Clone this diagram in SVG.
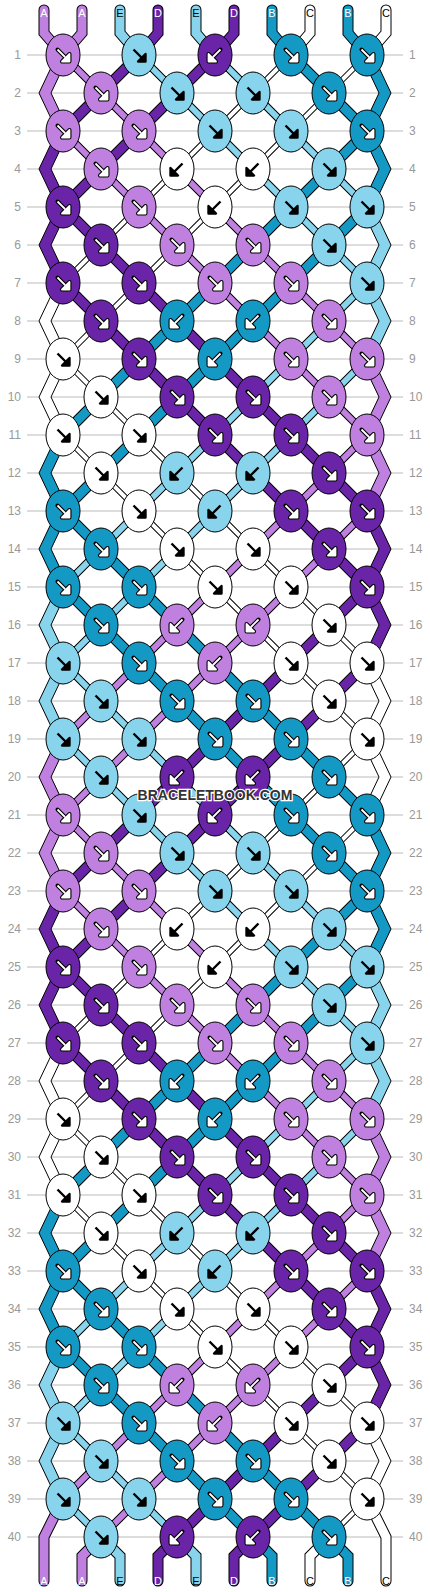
<svg xmlns="http://www.w3.org/2000/svg" xmlns:xlink="http://www.w3.org/1999/xlink" width="430" height="1592" viewBox="0 0 430 1592">
<style>
.g{stroke:#bbb;stroke-width:1;fill:none}
.n{font-family:"Liberation Sans",Arial,sans-serif;font-size:12px;fill:#999}
.nl{text-anchor:end}
.lb{font-family:"Liberation Sans",Arial,sans-serif;font-size:11px;text-anchor:middle}
.lw{fill:#fff}.lk{fill:#000}
ellipse{rx:17px;ry:21px;stroke:#000;stroke-width:1}
.A{fill:#c080e0}.B{fill:#1498c4}.C{fill:#fff}.D{fill:#6a24a8}.E{fill:#88d4ec}
.e{stroke:#000;stroke-width:1}
.t{fill:none;stroke-linecap:butt}
.oA,.oE{stroke:#000;stroke-width:8}.oB,.oD{stroke:#000;stroke-width:11}.oC{stroke:#000;stroke-width:6}
.cA{stroke:#c080e0;stroke-width:6}.cE{stroke:#88d4ec;stroke-width:6}.cB{stroke:#1498c4;stroke-width:9}.cD{stroke:#6a24a8;stroke-width:9}.cC{stroke:#fff;stroke-width:4}
.s{fill:none;stroke-linecap:round;stroke-linejoin:miter}
.so{stroke:#000;stroke-width:11}
.sA{stroke:#c080e0;stroke-width:9}.sB{stroke:#1498c4;stroke-width:9}.sC{stroke:#fff;stroke-width:9}.sD{stroke:#6a24a8;stroke-width:9}.sE{stroke:#88d4ec;stroke-width:9}
.ao{fill:#fff;stroke:#000;stroke-width:4;stroke-linejoin:round;stroke-linecap:round}
.ai{fill:#fff;stroke:#fff;stroke-width:1.8;stroke-linejoin:round}
.ab{fill:#000;stroke:#000;stroke-width:2.4;stroke-linejoin:round}
.wm{font-family:"Liberation Sans",Arial,sans-serif;font-size:14px;font-weight:bold;text-anchor:middle;fill:#333;stroke:#fff;stroke-width:2.5;paint-order:stroke}
</style>
<defs>
<path id="fa" d="M-5.5-5.5L2 2M6.5 6.5V-1L-1 6.5Z"/>
<path id="ba" d="M5.5-5.5L-2 2M-6.5 6.5V-1L1 6.5Z"/>
<g id="fW"><use href="#fa" class="ao"/><use href="#fa" class="ai"/></g>
<g id="bW"><use href="#ba" class="ao"/><use href="#ba" class="ai"/></g>
<g id="fB"><use href="#fa" class="ab"/></g>
<g id="bB"><use href="#ba" class="ab"/></g>
<path id="pA" d="M63 55l304 304m0 76l-304 304m0 76l304 304m0 76l-304 304M63 131l304 304m0 76l-304 304m0 76l304 304m0 76l-266 266"/>
<path id="pE" d="M139 55l228 228m0 76l-304 304m0 76l304 304m0 76l-304 304m0 76l38 38M215 55l152 152m0 76l-304 304m0 76l304 304m0 76l-304 304m0 76l114 114"/>
<path id="pD" d="M139 55l-76 76m0 76l304 304m0 76l-304 304m0 76l304 304m0 76l-190 190M215 55l-152 152m0 76l304 304m0 76l-304 304m0 76l304 304m0 76l-114 114"/>
<path id="pB" d="M291 55l76 76m0 76l-304 304m0 76l304 304m0 76l-304 304m0 76l190 190M367 131l-304 304m0 76l304 304m0 76l-304 304m0 76l266 266"/>
<path id="pC" d="M291 55l-228 228m0 76l304 304m0 76l-304 304m0 76l304 304m0 76l-38 38M367 55l-304 304m0 76l304 304m0 76l-304 304m0 76l304 304"/>
<path id="qA" d="M44 10V33L63 55M82 10V33L63 55M82 1581V1556L101 1537M44 1581V1537L63 1499"/>
<path id="qE" d="M120 10V33L139 55M196 10V33L215 55M120 1581V1556L101 1537M196 1581V1556L177 1537"/>
<path id="qD" d="M158 10V33L139 55M234 10V33L215 55M158 1581V1556L177 1537M234 1581V1556L253 1537"/>
<path id="qB" d="M272 10V33L291 55M348 10V33L367 55M272 1581V1556L253 1537M348 1581V1556L329 1537"/>
<path id="qC" d="M310 10V33L291 55M386 10V33L367 55M310 1581V1556L329 1537M386 1581V1537L367 1499"/>
</defs>
<rect width="430" height="1592" fill="#fff"/>
<g id="guides">
<path class="g" d="M27 55H403M27 93H403M27 131H403M27 169H403M27 207H403M27 245H403M27 283H403M27 321H403M27 359H403M27 397H403M27 435H403M27 473H403M27 511H403M27 549H403M27 587H403M27 625H403M27 663H403M27 701H403M27 739H403M27 777H403M27 815H403M27 853H403M27 891H403M27 929H403M27 967H403M27 1005H403M27 1043H403M27 1081H403M27 1119H403M27 1157H403M27 1195H403M27 1233H403M27 1271H403M27 1309H403M27 1347H403M27 1385H403M27 1423H403M27 1461H403M27 1499H403M27 1537H403"/>
</g>
<g id="rownumbers">
<text class="n nl" x="21" y="59">1</text><text class="n nl" x="21" y="97">2</text><text class="n nl" x="21" y="135">3</text><text class="n nl" x="21" y="173">4</text><text class="n nl" x="21" y="211">5</text><text class="n nl" x="21" y="249">6</text><text class="n nl" x="21" y="287">7</text><text class="n nl" x="21" y="325">8</text><text class="n nl" x="21" y="363">9</text><text class="n nl" x="21" y="401">10</text>
<text class="n nl" x="21" y="439">11</text><text class="n nl" x="21" y="477">12</text><text class="n nl" x="21" y="515">13</text><text class="n nl" x="21" y="553">14</text><text class="n nl" x="21" y="591">15</text><text class="n nl" x="21" y="629">16</text><text class="n nl" x="21" y="667">17</text><text class="n nl" x="21" y="705">18</text><text class="n nl" x="21" y="743">19</text><text class="n nl" x="21" y="781">20</text>
<text class="n nl" x="21" y="819">21</text><text class="n nl" x="21" y="857">22</text><text class="n nl" x="21" y="895">23</text><text class="n nl" x="21" y="933">24</text><text class="n nl" x="21" y="971">25</text><text class="n nl" x="21" y="1009">26</text><text class="n nl" x="21" y="1047">27</text><text class="n nl" x="21" y="1085">28</text><text class="n nl" x="21" y="1123">29</text><text class="n nl" x="21" y="1161">30</text>
<text class="n nl" x="21" y="1199">31</text><text class="n nl" x="21" y="1237">32</text><text class="n nl" x="21" y="1275">33</text><text class="n nl" x="21" y="1313">34</text><text class="n nl" x="21" y="1351">35</text><text class="n nl" x="21" y="1389">36</text><text class="n nl" x="21" y="1427">37</text><text class="n nl" x="21" y="1465">38</text><text class="n nl" x="21" y="1503">39</text><text class="n nl" x="21" y="1541">40</text>
<text class="n" x="409" y="59">1</text><text class="n" x="409" y="97">2</text><text class="n" x="409" y="135">3</text><text class="n" x="409" y="173">4</text><text class="n" x="409" y="211">5</text><text class="n" x="409" y="249">6</text><text class="n" x="409" y="287">7</text><text class="n" x="409" y="325">8</text><text class="n" x="409" y="363">9</text><text class="n" x="409" y="401">10</text>
<text class="n" x="409" y="439">11</text><text class="n" x="409" y="477">12</text><text class="n" x="409" y="515">13</text><text class="n" x="409" y="553">14</text><text class="n" x="409" y="591">15</text><text class="n" x="409" y="629">16</text><text class="n" x="409" y="667">17</text><text class="n" x="409" y="705">18</text><text class="n" x="409" y="743">19</text><text class="n" x="409" y="781">20</text>
<text class="n" x="409" y="819">21</text><text class="n" x="409" y="857">22</text><text class="n" x="409" y="895">23</text><text class="n" x="409" y="933">24</text><text class="n" x="409" y="971">25</text><text class="n" x="409" y="1009">26</text><text class="n" x="409" y="1047">27</text><text class="n" x="409" y="1085">28</text><text class="n" x="409" y="1123">29</text><text class="n" x="409" y="1161">30</text>
<text class="n" x="409" y="1199">31</text><text class="n" x="409" y="1237">32</text><text class="n" x="409" y="1275">33</text><text class="n" x="409" y="1313">34</text><text class="n" x="409" y="1351">35</text><text class="n" x="409" y="1389">36</text><text class="n" x="409" y="1427">37</text><text class="n" x="409" y="1465">38</text><text class="n" x="409" y="1503">39</text><text class="n" x="409" y="1541">40</text>
</g>
<g id="connectors">
<use href="#pA" class="t oA"/><use href="#pA" class="t cA"/>
<use href="#pE" class="t oE"/><use href="#pE" class="t cE"/>
<use href="#pD" class="t oD"/><use href="#pD" class="t cD"/>
<use href="#pB" class="t oB"/><use href="#pB" class="t cB"/>
<use href="#pC" class="t oC"/><use href="#pC" class="t cC"/>
<polygon class="e A" points="57,55 39,93 57,131 69,131 51,93 69,55"/>
<polygon class="e D" points="57,131 39,169 57,207 39,245 57,283 69,283 51,245 69,207 51,169 69,131"/>
<polygon class="e C" points="57,283 39,321 57,359 39,397 57,435 69,435 51,397 69,359 51,321 69,283"/>
<polygon class="e B" points="57,435 39,473 57,511 39,549 57,587 69,587 51,549 69,511 51,473 69,435"/>
<polygon class="e E" points="57,587 39,625 57,663 39,701 57,739 69,739 51,701 69,663 51,625 69,587"/>
<polygon class="e A" points="57,739 39,777 57,815 39,853 57,891 69,891 51,853 69,815 51,777 69,739"/>
<polygon class="e D" points="57,891 39,929 57,967 39,1005 57,1043 69,1043 51,1005 69,967 51,929 69,891"/>
<polygon class="e C" points="57,1043 39,1081 57,1119 39,1157 57,1195 69,1195 51,1157 69,1119 51,1081 69,1043"/>
<polygon class="e B" points="57,1195 39,1233 57,1271 39,1309 57,1347 69,1347 51,1309 69,1271 51,1233 69,1195"/>
<polygon class="e E" points="57,1347 39,1385 57,1423 39,1461 57,1499 69,1499 51,1461 69,1423 51,1385 69,1347"/>
<polygon class="e B" points="373,55 391,93 373,131 391,169 373,207 361,207 379,169 361,131 379,93 361,55"/>
<polygon class="e E" points="373,207 391,245 373,283 391,321 373,359 361,359 379,321 361,283 379,245 361,207"/>
<polygon class="e A" points="373,359 391,397 373,435 391,473 373,511 361,511 379,473 361,435 379,397 361,359"/>
<polygon class="e D" points="373,511 391,549 373,587 391,625 373,663 361,663 379,625 361,587 379,549 361,511"/>
<polygon class="e C" points="373,663 391,701 373,739 391,777 373,815 361,815 379,777 361,739 379,701 361,663"/>
<polygon class="e B" points="373,815 391,853 373,891 391,929 373,967 361,967 379,929 361,891 379,853 361,815"/>
<polygon class="e E" points="373,967 391,1005 373,1043 391,1081 373,1119 361,1119 379,1081 361,1043 379,1005 361,967"/>
<polygon class="e A" points="373,1119 391,1157 373,1195 391,1233 373,1271 361,1271 379,1233 361,1195 379,1157 361,1119"/>
<polygon class="e D" points="373,1271 391,1309 373,1347 391,1385 373,1423 361,1423 379,1385 361,1347 379,1309 361,1271"/>
<polygon class="e C" points="373,1423 391,1461 373,1499 361,1499 379,1461 361,1423"/>
<use href="#qA" class="s so"/><use href="#qA" class="s sA"/>
<use href="#qE" class="s so"/><use href="#qE" class="s sE"/>
<use href="#qD" class="s so"/><use href="#qD" class="s sD"/>
<use href="#qB" class="s so"/><use href="#qB" class="s sB"/>
<use href="#qC" class="s so"/><use href="#qC" class="s sC"/>
</g>
<g id="labels">
<text class="lb lw" x="44" y="17">A</text><text class="lb lw" x="82" y="17">A</text><text class="lb lk" x="120" y="17">E</text><text class="lb lw" x="158" y="17">D</text><text class="lb lk" x="196" y="17">E</text><text class="lb lw" x="234" y="17">D</text><text class="lb lw" x="272" y="17">B</text><text class="lb lk" x="310" y="17">C</text><text class="lb lw" x="348" y="17">B</text><text class="lb lk" x="386" y="17">C</text>
<text class="lb lw" x="44" y="1585">A</text><text class="lb lw" x="82" y="1585">A</text><text class="lb lk" x="120" y="1585">E</text><text class="lb lw" x="158" y="1585">D</text><text class="lb lk" x="196" y="1585">E</text><text class="lb lw" x="234" y="1585">D</text><text class="lb lw" x="272" y="1585">B</text><text class="lb lk" x="310" y="1585">C</text><text class="lb lw" x="348" y="1585">B</text><text class="lb lk" x="386" y="1585">C</text>
</g>
<g id="knots">
<g id="k1-1"><ellipse class="A" cx="63" cy="55"/><use href="#fW" x="63" y="55"/></g>
<g id="k1-2"><ellipse class="E" cx="139" cy="55"/><use href="#fB" x="139" y="55"/></g>
<g id="k1-3"><ellipse class="D" cx="215" cy="55"/><use href="#bW" x="215" y="55"/></g>
<g id="k1-4"><ellipse class="B" cx="291" cy="55"/><use href="#fW" x="291" y="55"/></g>
<g id="k1-5"><ellipse class="B" cx="367" cy="55"/><use href="#fW" x="367" y="55"/></g>
<g id="k2-1"><ellipse class="A" cx="101" cy="93"/><use href="#fW" x="101" y="93"/></g>
<g id="k2-2"><ellipse class="E" cx="177" cy="93"/><use href="#fB" x="177" y="93"/></g>
<g id="k2-3"><ellipse class="E" cx="253" cy="93"/><use href="#fB" x="253" y="93"/></g>
<g id="k2-4"><ellipse class="B" cx="329" cy="93"/><use href="#fW" x="329" y="93"/></g>
<g id="k3-1"><ellipse class="A" cx="63" cy="131"/><use href="#fW" x="63" y="131"/></g>
<g id="k3-2"><ellipse class="A" cx="139" cy="131"/><use href="#fW" x="139" y="131"/></g>
<g id="k3-3"><ellipse class="E" cx="215" cy="131"/><use href="#fB" x="215" y="131"/></g>
<g id="k3-4"><ellipse class="E" cx="291" cy="131"/><use href="#fB" x="291" y="131"/></g>
<g id="k3-5"><ellipse class="B" cx="367" cy="131"/><use href="#fW" x="367" y="131"/></g>
<g id="k4-1"><ellipse class="A" cx="101" cy="169"/><use href="#fW" x="101" y="169"/></g>
<g id="k4-2"><ellipse class="C" cx="177" cy="169"/><use href="#bB" x="177" y="169"/></g>
<g id="k4-3"><ellipse class="C" cx="253" cy="169"/><use href="#bB" x="253" y="169"/></g>
<g id="k4-4"><ellipse class="E" cx="329" cy="169"/><use href="#fB" x="329" y="169"/></g>
<g id="k5-1"><ellipse class="D" cx="63" cy="207"/><use href="#fW" x="63" y="207"/></g>
<g id="k5-2"><ellipse class="A" cx="139" cy="207"/><use href="#fW" x="139" y="207"/></g>
<g id="k5-3"><ellipse class="C" cx="215" cy="207"/><use href="#bB" x="215" y="207"/></g>
<g id="k5-4"><ellipse class="E" cx="291" cy="207"/><use href="#fB" x="291" y="207"/></g>
<g id="k5-5"><ellipse class="E" cx="367" cy="207"/><use href="#fB" x="367" y="207"/></g>
<g id="k6-1"><ellipse class="D" cx="101" cy="245"/><use href="#fW" x="101" y="245"/></g>
<g id="k6-2"><ellipse class="A" cx="177" cy="245"/><use href="#fW" x="177" y="245"/></g>
<g id="k6-3"><ellipse class="A" cx="253" cy="245"/><use href="#fW" x="253" y="245"/></g>
<g id="k6-4"><ellipse class="E" cx="329" cy="245"/><use href="#fB" x="329" y="245"/></g>
<g id="k7-1"><ellipse class="D" cx="63" cy="283"/><use href="#fW" x="63" y="283"/></g>
<g id="k7-2"><ellipse class="D" cx="139" cy="283"/><use href="#fW" x="139" y="283"/></g>
<g id="k7-3"><ellipse class="A" cx="215" cy="283"/><use href="#fW" x="215" y="283"/></g>
<g id="k7-4"><ellipse class="A" cx="291" cy="283"/><use href="#fW" x="291" y="283"/></g>
<g id="k7-5"><ellipse class="E" cx="367" cy="283"/><use href="#fB" x="367" y="283"/></g>
<g id="k8-1"><ellipse class="D" cx="101" cy="321"/><use href="#fW" x="101" y="321"/></g>
<g id="k8-2"><ellipse class="B" cx="177" cy="321"/><use href="#bW" x="177" y="321"/></g>
<g id="k8-3"><ellipse class="B" cx="253" cy="321"/><use href="#bW" x="253" y="321"/></g>
<g id="k8-4"><ellipse class="A" cx="329" cy="321"/><use href="#fW" x="329" y="321"/></g>
<g id="k9-1"><ellipse class="C" cx="63" cy="359"/><use href="#fB" x="63" y="359"/></g>
<g id="k9-2"><ellipse class="D" cx="139" cy="359"/><use href="#fW" x="139" y="359"/></g>
<g id="k9-3"><ellipse class="B" cx="215" cy="359"/><use href="#bW" x="215" y="359"/></g>
<g id="k9-4"><ellipse class="A" cx="291" cy="359"/><use href="#fW" x="291" y="359"/></g>
<g id="k9-5"><ellipse class="A" cx="367" cy="359"/><use href="#fW" x="367" y="359"/></g>
<g id="k10-1"><ellipse class="C" cx="101" cy="397"/><use href="#fB" x="101" y="397"/></g>
<g id="k10-2"><ellipse class="D" cx="177" cy="397"/><use href="#fW" x="177" y="397"/></g>
<g id="k10-3"><ellipse class="D" cx="253" cy="397"/><use href="#fW" x="253" y="397"/></g>
<g id="k10-4"><ellipse class="A" cx="329" cy="397"/><use href="#fW" x="329" y="397"/></g>
<g id="k11-1"><ellipse class="C" cx="63" cy="435"/><use href="#fB" x="63" y="435"/></g>
<g id="k11-2"><ellipse class="C" cx="139" cy="435"/><use href="#fB" x="139" y="435"/></g>
<g id="k11-3"><ellipse class="D" cx="215" cy="435"/><use href="#fW" x="215" y="435"/></g>
<g id="k11-4"><ellipse class="D" cx="291" cy="435"/><use href="#fW" x="291" y="435"/></g>
<g id="k11-5"><ellipse class="A" cx="367" cy="435"/><use href="#fW" x="367" y="435"/></g>
<g id="k12-1"><ellipse class="C" cx="101" cy="473"/><use href="#fB" x="101" y="473"/></g>
<g id="k12-2"><ellipse class="E" cx="177" cy="473"/><use href="#bB" x="177" y="473"/></g>
<g id="k12-3"><ellipse class="E" cx="253" cy="473"/><use href="#bB" x="253" y="473"/></g>
<g id="k12-4"><ellipse class="D" cx="329" cy="473"/><use href="#fW" x="329" y="473"/></g>
<g id="k13-1"><ellipse class="B" cx="63" cy="511"/><use href="#fW" x="63" y="511"/></g>
<g id="k13-2"><ellipse class="C" cx="139" cy="511"/><use href="#fB" x="139" y="511"/></g>
<g id="k13-3"><ellipse class="E" cx="215" cy="511"/><use href="#bB" x="215" y="511"/></g>
<g id="k13-4"><ellipse class="D" cx="291" cy="511"/><use href="#fW" x="291" y="511"/></g>
<g id="k13-5"><ellipse class="D" cx="367" cy="511"/><use href="#fW" x="367" y="511"/></g>
<g id="k14-1"><ellipse class="B" cx="101" cy="549"/><use href="#fW" x="101" y="549"/></g>
<g id="k14-2"><ellipse class="C" cx="177" cy="549"/><use href="#fB" x="177" y="549"/></g>
<g id="k14-3"><ellipse class="C" cx="253" cy="549"/><use href="#fB" x="253" y="549"/></g>
<g id="k14-4"><ellipse class="D" cx="329" cy="549"/><use href="#fW" x="329" y="549"/></g>
<g id="k15-1"><ellipse class="B" cx="63" cy="587"/><use href="#fW" x="63" y="587"/></g>
<g id="k15-2"><ellipse class="B" cx="139" cy="587"/><use href="#fW" x="139" y="587"/></g>
<g id="k15-3"><ellipse class="C" cx="215" cy="587"/><use href="#fB" x="215" y="587"/></g>
<g id="k15-4"><ellipse class="C" cx="291" cy="587"/><use href="#fB" x="291" y="587"/></g>
<g id="k15-5"><ellipse class="D" cx="367" cy="587"/><use href="#fW" x="367" y="587"/></g>
<g id="k16-1"><ellipse class="B" cx="101" cy="625"/><use href="#fW" x="101" y="625"/></g>
<g id="k16-2"><ellipse class="A" cx="177" cy="625"/><use href="#bW" x="177" y="625"/></g>
<g id="k16-3"><ellipse class="A" cx="253" cy="625"/><use href="#bW" x="253" y="625"/></g>
<g id="k16-4"><ellipse class="C" cx="329" cy="625"/><use href="#fB" x="329" y="625"/></g>
<g id="k17-1"><ellipse class="E" cx="63" cy="663"/><use href="#fB" x="63" y="663"/></g>
<g id="k17-2"><ellipse class="B" cx="139" cy="663"/><use href="#fW" x="139" y="663"/></g>
<g id="k17-3"><ellipse class="A" cx="215" cy="663"/><use href="#bW" x="215" y="663"/></g>
<g id="k17-4"><ellipse class="C" cx="291" cy="663"/><use href="#fB" x="291" y="663"/></g>
<g id="k17-5"><ellipse class="C" cx="367" cy="663"/><use href="#fB" x="367" y="663"/></g>
<g id="k18-1"><ellipse class="E" cx="101" cy="701"/><use href="#fB" x="101" y="701"/></g>
<g id="k18-2"><ellipse class="B" cx="177" cy="701"/><use href="#fW" x="177" y="701"/></g>
<g id="k18-3"><ellipse class="B" cx="253" cy="701"/><use href="#fW" x="253" y="701"/></g>
<g id="k18-4"><ellipse class="C" cx="329" cy="701"/><use href="#fB" x="329" y="701"/></g>
<g id="k19-1"><ellipse class="E" cx="63" cy="739"/><use href="#fB" x="63" y="739"/></g>
<g id="k19-2"><ellipse class="E" cx="139" cy="739"/><use href="#fB" x="139" y="739"/></g>
<g id="k19-3"><ellipse class="B" cx="215" cy="739"/><use href="#fW" x="215" y="739"/></g>
<g id="k19-4"><ellipse class="B" cx="291" cy="739"/><use href="#fW" x="291" y="739"/></g>
<g id="k19-5"><ellipse class="C" cx="367" cy="739"/><use href="#fB" x="367" y="739"/></g>
<g id="k20-1"><ellipse class="E" cx="101" cy="777"/><use href="#fB" x="101" y="777"/></g>
<g id="k20-2"><ellipse class="D" cx="177" cy="777"/><use href="#bW" x="177" y="777"/></g>
<g id="k20-3"><ellipse class="D" cx="253" cy="777"/><use href="#bW" x="253" y="777"/></g>
<g id="k20-4"><ellipse class="B" cx="329" cy="777"/><use href="#fW" x="329" y="777"/></g>
<g id="k21-1"><ellipse class="A" cx="63" cy="815"/><use href="#fW" x="63" y="815"/></g>
<g id="k21-2"><ellipse class="E" cx="139" cy="815"/><use href="#fB" x="139" y="815"/></g>
<g id="k21-3"><ellipse class="D" cx="215" cy="815"/><use href="#bW" x="215" y="815"/></g>
<g id="k21-4"><ellipse class="B" cx="291" cy="815"/><use href="#fW" x="291" y="815"/></g>
<g id="k21-5"><ellipse class="B" cx="367" cy="815"/><use href="#fW" x="367" y="815"/></g>
<g id="k22-1"><ellipse class="A" cx="101" cy="853"/><use href="#fW" x="101" y="853"/></g>
<g id="k22-2"><ellipse class="E" cx="177" cy="853"/><use href="#fB" x="177" y="853"/></g>
<g id="k22-3"><ellipse class="E" cx="253" cy="853"/><use href="#fB" x="253" y="853"/></g>
<g id="k22-4"><ellipse class="B" cx="329" cy="853"/><use href="#fW" x="329" y="853"/></g>
<g id="k23-1"><ellipse class="A" cx="63" cy="891"/><use href="#fW" x="63" y="891"/></g>
<g id="k23-2"><ellipse class="A" cx="139" cy="891"/><use href="#fW" x="139" y="891"/></g>
<g id="k23-3"><ellipse class="E" cx="215" cy="891"/><use href="#fB" x="215" y="891"/></g>
<g id="k23-4"><ellipse class="E" cx="291" cy="891"/><use href="#fB" x="291" y="891"/></g>
<g id="k23-5"><ellipse class="B" cx="367" cy="891"/><use href="#fW" x="367" y="891"/></g>
<g id="k24-1"><ellipse class="A" cx="101" cy="929"/><use href="#fW" x="101" y="929"/></g>
<g id="k24-2"><ellipse class="C" cx="177" cy="929"/><use href="#bB" x="177" y="929"/></g>
<g id="k24-3"><ellipse class="C" cx="253" cy="929"/><use href="#bB" x="253" y="929"/></g>
<g id="k24-4"><ellipse class="E" cx="329" cy="929"/><use href="#fB" x="329" y="929"/></g>
<g id="k25-1"><ellipse class="D" cx="63" cy="967"/><use href="#fW" x="63" y="967"/></g>
<g id="k25-2"><ellipse class="A" cx="139" cy="967"/><use href="#fW" x="139" y="967"/></g>
<g id="k25-3"><ellipse class="C" cx="215" cy="967"/><use href="#bB" x="215" y="967"/></g>
<g id="k25-4"><ellipse class="E" cx="291" cy="967"/><use href="#fB" x="291" y="967"/></g>
<g id="k25-5"><ellipse class="E" cx="367" cy="967"/><use href="#fB" x="367" y="967"/></g>
<g id="k26-1"><ellipse class="D" cx="101" cy="1005"/><use href="#fW" x="101" y="1005"/></g>
<g id="k26-2"><ellipse class="A" cx="177" cy="1005"/><use href="#fW" x="177" y="1005"/></g>
<g id="k26-3"><ellipse class="A" cx="253" cy="1005"/><use href="#fW" x="253" y="1005"/></g>
<g id="k26-4"><ellipse class="E" cx="329" cy="1005"/><use href="#fB" x="329" y="1005"/></g>
<g id="k27-1"><ellipse class="D" cx="63" cy="1043"/><use href="#fW" x="63" y="1043"/></g>
<g id="k27-2"><ellipse class="D" cx="139" cy="1043"/><use href="#fW" x="139" y="1043"/></g>
<g id="k27-3"><ellipse class="A" cx="215" cy="1043"/><use href="#fW" x="215" y="1043"/></g>
<g id="k27-4"><ellipse class="A" cx="291" cy="1043"/><use href="#fW" x="291" y="1043"/></g>
<g id="k27-5"><ellipse class="E" cx="367" cy="1043"/><use href="#fB" x="367" y="1043"/></g>
<g id="k28-1"><ellipse class="D" cx="101" cy="1081"/><use href="#fW" x="101" y="1081"/></g>
<g id="k28-2"><ellipse class="B" cx="177" cy="1081"/><use href="#bW" x="177" y="1081"/></g>
<g id="k28-3"><ellipse class="B" cx="253" cy="1081"/><use href="#bW" x="253" y="1081"/></g>
<g id="k28-4"><ellipse class="A" cx="329" cy="1081"/><use href="#fW" x="329" y="1081"/></g>
<g id="k29-1"><ellipse class="C" cx="63" cy="1119"/><use href="#fB" x="63" y="1119"/></g>
<g id="k29-2"><ellipse class="D" cx="139" cy="1119"/><use href="#fW" x="139" y="1119"/></g>
<g id="k29-3"><ellipse class="B" cx="215" cy="1119"/><use href="#bW" x="215" y="1119"/></g>
<g id="k29-4"><ellipse class="A" cx="291" cy="1119"/><use href="#fW" x="291" y="1119"/></g>
<g id="k29-5"><ellipse class="A" cx="367" cy="1119"/><use href="#fW" x="367" y="1119"/></g>
<g id="k30-1"><ellipse class="C" cx="101" cy="1157"/><use href="#fB" x="101" y="1157"/></g>
<g id="k30-2"><ellipse class="D" cx="177" cy="1157"/><use href="#fW" x="177" y="1157"/></g>
<g id="k30-3"><ellipse class="D" cx="253" cy="1157"/><use href="#fW" x="253" y="1157"/></g>
<g id="k30-4"><ellipse class="A" cx="329" cy="1157"/><use href="#fW" x="329" y="1157"/></g>
<g id="k31-1"><ellipse class="C" cx="63" cy="1195"/><use href="#fB" x="63" y="1195"/></g>
<g id="k31-2"><ellipse class="C" cx="139" cy="1195"/><use href="#fB" x="139" y="1195"/></g>
<g id="k31-3"><ellipse class="D" cx="215" cy="1195"/><use href="#fW" x="215" y="1195"/></g>
<g id="k31-4"><ellipse class="D" cx="291" cy="1195"/><use href="#fW" x="291" y="1195"/></g>
<g id="k31-5"><ellipse class="A" cx="367" cy="1195"/><use href="#fW" x="367" y="1195"/></g>
<g id="k32-1"><ellipse class="C" cx="101" cy="1233"/><use href="#fB" x="101" y="1233"/></g>
<g id="k32-2"><ellipse class="E" cx="177" cy="1233"/><use href="#bB" x="177" y="1233"/></g>
<g id="k32-3"><ellipse class="E" cx="253" cy="1233"/><use href="#bB" x="253" y="1233"/></g>
<g id="k32-4"><ellipse class="D" cx="329" cy="1233"/><use href="#fW" x="329" y="1233"/></g>
<g id="k33-1"><ellipse class="B" cx="63" cy="1271"/><use href="#fW" x="63" y="1271"/></g>
<g id="k33-2"><ellipse class="C" cx="139" cy="1271"/><use href="#fB" x="139" y="1271"/></g>
<g id="k33-3"><ellipse class="E" cx="215" cy="1271"/><use href="#bB" x="215" y="1271"/></g>
<g id="k33-4"><ellipse class="D" cx="291" cy="1271"/><use href="#fW" x="291" y="1271"/></g>
<g id="k33-5"><ellipse class="D" cx="367" cy="1271"/><use href="#fW" x="367" y="1271"/></g>
<g id="k34-1"><ellipse class="B" cx="101" cy="1309"/><use href="#fW" x="101" y="1309"/></g>
<g id="k34-2"><ellipse class="C" cx="177" cy="1309"/><use href="#fB" x="177" y="1309"/></g>
<g id="k34-3"><ellipse class="C" cx="253" cy="1309"/><use href="#fB" x="253" y="1309"/></g>
<g id="k34-4"><ellipse class="D" cx="329" cy="1309"/><use href="#fW" x="329" y="1309"/></g>
<g id="k35-1"><ellipse class="B" cx="63" cy="1347"/><use href="#fW" x="63" y="1347"/></g>
<g id="k35-2"><ellipse class="B" cx="139" cy="1347"/><use href="#fW" x="139" y="1347"/></g>
<g id="k35-3"><ellipse class="C" cx="215" cy="1347"/><use href="#fB" x="215" y="1347"/></g>
<g id="k35-4"><ellipse class="C" cx="291" cy="1347"/><use href="#fB" x="291" y="1347"/></g>
<g id="k35-5"><ellipse class="D" cx="367" cy="1347"/><use href="#fW" x="367" y="1347"/></g>
<g id="k36-1"><ellipse class="B" cx="101" cy="1385"/><use href="#fW" x="101" y="1385"/></g>
<g id="k36-2"><ellipse class="A" cx="177" cy="1385"/><use href="#bW" x="177" y="1385"/></g>
<g id="k36-3"><ellipse class="A" cx="253" cy="1385"/><use href="#bW" x="253" y="1385"/></g>
<g id="k36-4"><ellipse class="C" cx="329" cy="1385"/><use href="#fB" x="329" y="1385"/></g>
<g id="k37-1"><ellipse class="E" cx="63" cy="1423"/><use href="#fB" x="63" y="1423"/></g>
<g id="k37-2"><ellipse class="B" cx="139" cy="1423"/><use href="#fW" x="139" y="1423"/></g>
<g id="k37-3"><ellipse class="A" cx="215" cy="1423"/><use href="#bW" x="215" y="1423"/></g>
<g id="k37-4"><ellipse class="C" cx="291" cy="1423"/><use href="#fB" x="291" y="1423"/></g>
<g id="k37-5"><ellipse class="C" cx="367" cy="1423"/><use href="#fB" x="367" y="1423"/></g>
<g id="k38-1"><ellipse class="E" cx="101" cy="1461"/><use href="#fB" x="101" y="1461"/></g>
<g id="k38-2"><ellipse class="B" cx="177" cy="1461"/><use href="#fW" x="177" y="1461"/></g>
<g id="k38-3"><ellipse class="B" cx="253" cy="1461"/><use href="#fW" x="253" y="1461"/></g>
<g id="k38-4"><ellipse class="C" cx="329" cy="1461"/><use href="#fB" x="329" y="1461"/></g>
<g id="k39-1"><ellipse class="E" cx="63" cy="1499"/><use href="#fB" x="63" y="1499"/></g>
<g id="k39-2"><ellipse class="E" cx="139" cy="1499"/><use href="#fB" x="139" y="1499"/></g>
<g id="k39-3"><ellipse class="B" cx="215" cy="1499"/><use href="#fW" x="215" y="1499"/></g>
<g id="k39-4"><ellipse class="B" cx="291" cy="1499"/><use href="#fW" x="291" y="1499"/></g>
<g id="k39-5"><ellipse class="C" cx="367" cy="1499"/><use href="#fB" x="367" y="1499"/></g>
<g id="k40-1"><ellipse class="E" cx="101" cy="1537"/><use href="#fB" x="101" y="1537"/></g>
<g id="k40-2"><ellipse class="D" cx="177" cy="1537"/><use href="#bW" x="177" y="1537"/></g>
<g id="k40-3"><ellipse class="D" cx="253" cy="1537"/><use href="#bW" x="253" y="1537"/></g>
<g id="k40-4"><ellipse class="B" cx="329" cy="1537"/><use href="#fW" x="329" y="1537"/></g>
</g>
<text class="wm" x="215" y="800">BRACELETBOOK.COM</text>
</svg>
